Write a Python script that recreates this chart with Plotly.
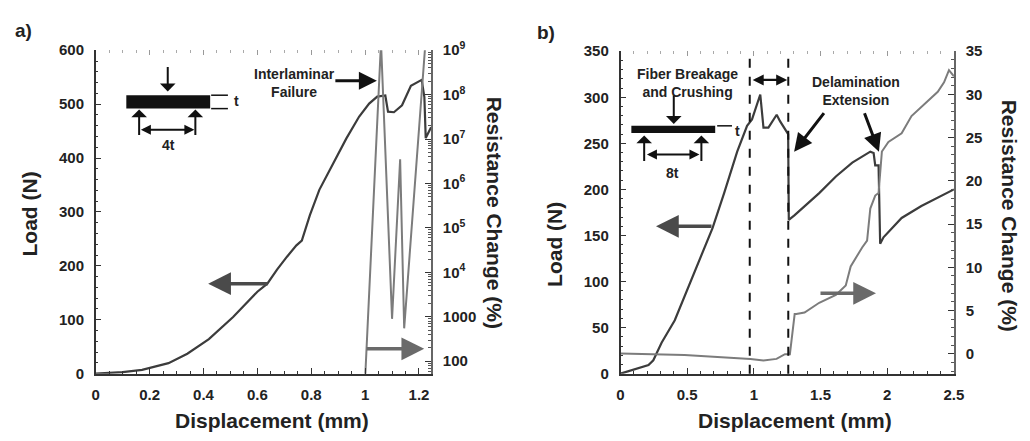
import plotly.graph_objects as go

W, H = 1030, 441

# ---------------- data ----------------
# Panel a) load vs displacement
a_disp = [0, 0.10, 0.172, 0.27, 0.34, 0.42, 0.51, 0.60, 0.637, 0.673, 0.71, 0.745,
          0.765, 0.795, 0.83, 0.88, 0.93, 0.978, 1.015, 1.045, 1.075, 1.085, 1.107,
          1.137, 1.17, 1.21, 1.22, 1.225, 1.245]
a_load = [0, 3, 7, 19.5, 37, 64, 105, 152, 167, 193, 217, 238, 247, 294, 341, 389,
          436, 477, 501, 514, 516, 486, 485, 498, 534, 545, 513, 437, 457]
# Panel a) resistance change (%) log scale
a_res_disp = [1.0, 1.059, 1.10, 1.13, 1.145, 1.224]
a_res = [40, 1.5e9, 900, 3.5e6, 550, 1.5e9]

# Panel b) load vs displacement
b_disp = [0, 0.21, 0.246, 0.308, 0.407, 0.505, 0.604, 0.69, 0.777, 0.875, 0.949,
          0.986, 1.048, 1.072, 1.109, 1.171, 1.196, 1.233, 1.257, 1.262, 1.306,
          1.49, 1.615, 1.738, 1.873, 1.898, 1.91, 1.935, 1.947, 1.972, 2.108,
          2.256, 2.379, 2.5]
b_load = [0, 9.3, 14.5, 33.6, 58, 92.4, 127, 158, 196, 241, 269, 276, 303, 267,
          267, 281, 274, 265.5, 260, 167, 172, 196, 214, 229, 241, 239.5, 226, 226,
          141, 148, 169, 182, 191, 200]
# Panel b) resistance change (%)
b_res_disp = [0, 0.48, 0.974, 1.072, 1.17, 1.233, 1.27, 1.282, 1.306, 1.318, 1.38,
              1.49, 1.615, 1.689, 1.726, 1.812, 1.849, 1.873, 1.91, 1.935, 1.96,
              2.009, 2.108, 2.182, 2.305, 2.379, 2.426, 2.463, 2.5]
b_res = [0.03, -0.15, -0.59, -0.78, -0.59, -0.04, -0.04, 1.6, 4.6, 4.6, 4.77, 5.9,
         6.8, 7.9, 10.1, 12.3, 13.1, 16.8, 18.3, 18.6, 23.4, 24.5, 25.5, 27.5, 29.3,
         30.3, 31.4, 32.8, 32.1]

log_tickvals = [100, 1000, 1e4, 1e5, 1e6, 1e7, 1e8, 1e9]
log_ticktext = ["100", "1000", "10<sup>4</sup>", "10<sup>5</sup>", "10<sup>6</sup>",
                "10<sup>7</sup>", "10<sup>8</sup>", "10<sup>9</sup>"]

# ---------------- styling ----------------
FONT = "Liberation Sans, Arial, sans-serif"
LOAD_C = "#3c3c3c"
RES_C = "#7c7c7c"
TICKFONT = dict(family=FONT, size=15, color="#222", weight="bold")


def PX(x):
    return x / W


def PY(y):
    return 1 - y / H


fig = go.Figure()
fig.add_trace(go.Scatter(x=a_disp, y=a_load, xaxis="x", yaxis="y", mode="lines",
                         line=dict(color=LOAD_C, width=2.2), hoverinfo="skip"))
fig.add_trace(go.Scatter(x=a_res_disp, y=a_res, xaxis="x", yaxis="y2", mode="lines",
                         line=dict(color=RES_C, width=2), hoverinfo="skip"))
fig.add_trace(go.Scatter(x=[None], y=[None], xaxis="x3", yaxis="y", mode="lines",
                         hoverinfo="skip"))
fig.add_trace(go.Scatter(x=b_disp, y=b_load, xaxis="x2", yaxis="y3", mode="lines",
                         line=dict(color=LOAD_C, width=2.2), hoverinfo="skip"))
fig.add_trace(go.Scatter(x=b_res_disp, y=b_res, xaxis="x2", yaxis="y4", mode="lines",
                         line=dict(color=RES_C, width=2), hoverinfo="skip"))
fig.add_trace(go.Scatter(x=[None], y=[None], xaxis="x4", yaxis="y3", mode="lines",
                         hoverinfo="skip"))

common = dict(showgrid=False, zeroline=False, ticks="inside", ticklen=6,
              tickwidth=1.2, tickcolor="#333", tickfont=TICKFONT,
              ticklabelstandoff=7)
top = dict(showgrid=False, zeroline=False, ticks="inside", ticklen=5,
           tickwidth=1.2, tickcolor="#999", showline=False, showticklabels=False)

dom_ax = [PX(93), PX(433)]
dom_bx = [PX(625), PX(963)]
dom_ay = [PY(379), PY(41)]
dom_by = [PY(379), PY(42)]

fig.update_layout(
    width=W, height=H, margin=dict(l=0, r=0, t=0, b=0),
    plot_bgcolor="white", paper_bgcolor="white", showlegend=False,
    xaxis=dict(domain=dom_ax, range=[0, 1.245], anchor="y", dtick=0.2, tick0=0,
               showline=True, linecolor="#333", linewidth=1.5,
               minor=dict(dtick=0.05, ticks="inside", ticklen=3, tickcolor="#333"),
               **common),
    xaxis3=dict(overlaying="x", side="top", anchor="y", range=[0, 1.245],
                dtick=0.2, tick0=0,
                minor=dict(dtick=0.05, ticks="inside", ticklen=3, tickcolor="#aaa"),
                **top),
    yaxis=dict(domain=dom_ay, range=[0, 600], anchor="x", dtick=100, tick0=0,
               showline=True, linecolor="#333", linewidth=1.5,
               minor=dict(dtick=20, ticks="inside", ticklen=3, tickcolor="#333"),
               **common),
    yaxis2=dict(overlaying="y", side="right", anchor="x", type="log",
                range=[1.72, 9], tickvals=log_tickvals, ticktext=log_ticktext,
                showline=True, linecolor="#666", linewidth=1.5,
                minor=dict(dtick="D1", ticks="inside", ticklen=3, tickcolor="#555"),
                **common),
    xaxis2=dict(domain=dom_bx, range=[0, 2.5], anchor="y3", dtick=0.5, tick0=0,
                showline=True, linecolor="#333", linewidth=1.5,
                minor=dict(dtick=0.1, ticks="inside", ticklen=3, tickcolor="#333"),
                **common),
    xaxis4=dict(overlaying="x2", side="top", anchor="y3", range=[0, 2.5],
                dtick=0.5, tick0=0,
                minor=dict(dtick=0.1, ticks="inside", ticklen=3, tickcolor="#aaa"),
                **top),
    yaxis3=dict(domain=dom_by, range=[0, 350], anchor="x2", dtick=50, tick0=0,
                showline=True, linecolor="#333", linewidth=1.5,
                minor=dict(dtick=10, ticks="inside", ticklen=3, tickcolor="#333"),
                **common),
    yaxis4=dict(overlaying="y3", side="right", anchor="x2", range=[-2.3, 35],
                dtick=5, tick0=0, showline=True, linecolor="#666", linewidth=1.5,
                minor=dict(dtick=1, ticks="inside", ticklen=3, tickcolor="#555"),
                **common),
)

annots = []
TITLE = dict(family=FONT, size=21, color="#222", weight="bold")
NOTE = dict(family=FONT, size=14, color="#222", weight="bold")


def text(x, y, s, font, angle=0):
    annots.append(dict(x=PX(x), y=PY(y), xref="paper", yref="paper", text=s,
                       showarrow=False, font=font, textangle=angle,
                       xanchor="center", yanchor="middle"))


def arrow(x0, y0, x1, y1, color="#111", width=2, head=2, size=1, both=False):
    annots.append(dict(x=PX(x1), y=PY(y1), xref="paper", yref="paper", text="",
                       showarrow=True, ax=x0 - x1, ay=y0 - y1, axref="pixel",
                       ayref="pixel", arrowcolor=color, arrowwidth=width,
                       arrowhead=head, arrowsize=size,
                       arrowside="end+start" if both else "end",
                       startarrowhead=head, startarrowsize=size,
                       standoff=0, startstandoff=0))


# panel labels and axis titles
text(20, 20, "a)", dict(family=FONT, size=19, color="#222", weight="bold"))
text(549, 22, "b)", dict(family=FONT, size=19, color="#222", weight="bold"))
text(26, 212, "Load (N)", TITLE, -90)
text(497, 211, "Resistance Change (%)", TITLE, 90)
text(272, 428, "Displacement (mm)", TITLE)
text(558, 244, "Load (N)", TITLE, -90)
text(1019, 214, "Resistance Change (%)", TITLE, 90)
text(802, 428, "Displacement (mm)", TITLE)

# panel a notes
text(295, 75, "Interlaminar<br>Failure", NOTE)
arrow(335, 73, 378, 73, color="#111", width=3, head=2, size=1.2)
arrow(166, 58, 166, 84, width=2, head=1, size=1.3)
arrow(137, 130, 137, 103, width=2, head=1, size=1.3)
arrow(194, 130, 194, 103, width=2, head=1, size=1.3)
arrow(138, 124, 193, 124, width=2, head=2, size=1, both=True)
text(167, 140, "4t", NOTE)
text(236, 94, "t", NOTE)
arrow(268, 285, 207, 285, color="#4a4a4a", width=3.5, head=2, size=1.3)
arrow(367, 353, 426, 353, color="#6a6a6a", width=3.5, head=2, size=1.3)

# panel b notes
text(693, 75, "Fiber Breakage<br>and Crushing", NOTE)
text(864, 84, "Delamination<br>Extension", NOTE)
arrow(758, 72, 794, 72, width=2.2, head=2, size=1, both=True)
arrow(679, 88, 679, 118, width=2, head=1, size=1.3)
arrow(649, 157, 649, 130, width=2, head=1, size=1.3)
arrow(707, 157, 707, 130, width=2, head=1, size=1.3)
arrow(651, 150, 705, 150, width=2, head=2, size=1, both=True)
text(678, 169, "8t", NOTE)
text(744, 125, "t", NOTE)
arrow(832, 107, 801, 147, color="#111", width=3, head=2, size=1.2)
arrow(872, 107, 887, 147, color="#111", width=3, head=2, size=1.2)
arrow(718, 225, 661, 225, color="#4a4a4a", width=3.5, head=2, size=1.3)
arrow(827, 295, 884, 295, color="#6a6a6a", width=3.5, head=2, size=1.3)

fig.update_layout(annotations=annots)

shapes = [
    # beam a
    dict(type="rect", xref="paper", yref="paper", x0=PX(124), x1=PX(209),
         y0=PY(102), y1=PY(88), fillcolor="#111", line=dict(width=0)),
    dict(type="line", xref="paper", yref="paper", x0=PX(210), x1=PX(227),
         y0=PY(88), y1=PY(88), line=dict(color="#111", width=1.5)),
    dict(type="line", xref="paper", yref="paper", x0=PX(210), x1=PX(227),
         y0=PY(102), y1=PY(102), line=dict(color="#111", width=1.5)),
    # beam b
    dict(type="rect", xref="paper", yref="paper", x0=PX(636), x1=PX(721),
         y0=PY(127.5), y1=PY(120), fillcolor="#111", line=dict(width=0)),
    dict(type="line", xref="paper", yref="paper", x0=PX(723), x1=PX(738),
         y0=PY(120), y1=PY(120), line=dict(color="#111", width=1.5)),
    # dashed lines b
    dict(type="line", xref="x2", yref="y3 domain", x0=0.969, x1=0.969, y0=0, y1=1,
         line=dict(color="#111", width=2, dash="dash")),
    dict(type="line", xref="x2", yref="y3 domain", x0=1.258, x1=1.258, y0=0, y1=1,
         line=dict(color="#111", width=2, dash="dash")),
]
fig.update_layout(shapes=shapes)

fig.write_html("out.html")
